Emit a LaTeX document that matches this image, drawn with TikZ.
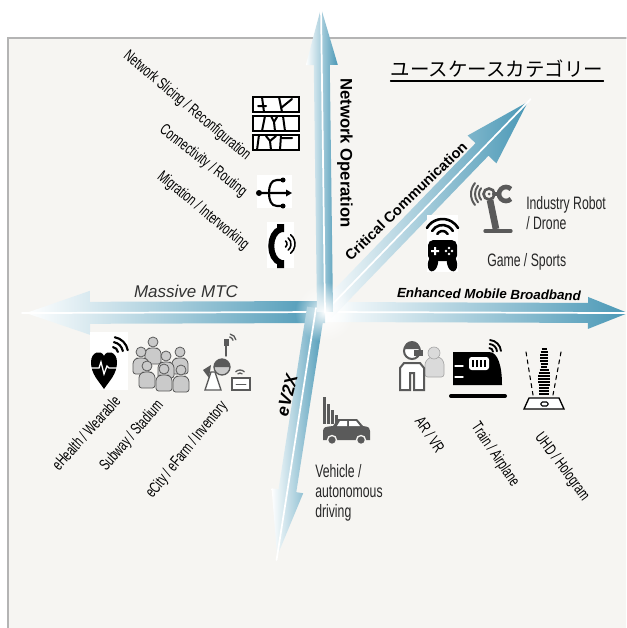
\documentclass[tikz,border=0pt]{standalone}
\usepackage{fontspec}
\setmainfont{Liberation Sans}
\newfontfamily\narrowfont[FakeStretch=0.68]{Liberation Sans}
\newfontfamily\jpfont{Noto Sans CJK JP}
\usetikzlibrary{calc,fadings}
\definecolor{panel}{HTML}{F6F5F2}
\definecolor{frame}{HTML}{B4B4B4}
\definecolor{arrowteal}{HTML}{4A98B6}
\definecolor{arrowpale}{HTML}{D3E1F6}
\definecolor{icongray}{HTML}{5A5A5A}
\definecolor{crowdgray}{HTML}{CACACA}
\tikzfading[name=hubglow, inner color=transparent!0, outer color=transparent!100]

\newcommand{\splitarrow}[6]{%
  \begin{scope}[shift={(#1)}, rotate=#2]
    \shade[left color=white, middle color=arrowpale, right color=arrowteal]
      (0,-#4) -- ({#3-#6},-#4) -- ({#3-#6},-#5) -- (#3,0) -- ({#3-#6},#5) -- ({#3-#6},#4) -- (0,#4) -- cycle;
    \draw[white, line width=1.3pt] (0,0) -- ({#3+4},0);
  \end{scope}}

\begin{document}
\begin{tikzpicture}[x=0.75pt, y=-0.75pt,
    lbl/.style={font=\narrowfont\fontsize{13.5}{15}\selectfont, text=black!85, inner sep=0pt},
    rlbl/.style={font=\narrowfont\fontsize{12}{14}\selectfont, text=black, inner sep=0pt},
    cat/.style={font=\bfseries\fontsize{12.5}{14}\selectfont, text=black, inner sep=0pt},
    line cap=round]
  \useasboundingbox (0,0) rectangle (626,628);
  \fill[white] (0,0) rectangle (626,628);
  \fill[panel] (8,38) rectangle (626,628);
  \draw[frame, line width=1pt] (8,628) -- (8,38) -- (626,38);

  \coordinate (hub) at (325,312);
  \coordinate (vxtail) at (316,308);
  \splitarrow{hub}{-0.2}{303}{10}{16}{40}
  \splitarrow{hub}{180.2}{299}{11}{22}{64}
  \splitarrow{vxtail}{-98.9}{251}{9}{16}{66}
  \splitarrow{hub}{46}{292}{9}{20}{66}
  \splitarrow{hub}{90.75}{304}{8}{16}{57}
  \fill[white, path fading=hubglow] (hub) circle (30);

  \node[font=\jpfont\fontsize{14.6}{16}\selectfont, inner sep=0pt] (title) at (497,69) {ユースケースカテゴリー};
  \draw[line width=1.2pt] ([yshift=-2pt]title.south west) -- ([yshift=-2pt]title.south east);

  \node[font=\itshape\fontsize{12.75}{14}\selectfont, text=black!80, inner sep=0pt] (mtc) at (186,291) {Massive MTC};
  \node[cat, rotate=-90] (neo) at (345,153) {Network Operation};
  \node[cat, font=\bfseries\fontsize{10.9}{12}\selectfont, rotate=44] (cric) at (406,201) {Critical Communication};
  \node[cat, font=\bfseries\itshape\fontsize{10}{12}\selectfont, rotate=-1] (embb) at (489,294) {Enhanced Mobile Broadband};
  \node[cat, font=\bfseries\itshape\fontsize{13}{14}\selectfont, rotate=76] (vx) at (287,395) {eV2X};

  \node[rlbl, rotate=-40] (slicing) at (187,106) {Network Slicing / Reconfiguration};
  \node[rlbl, rotate=-38] (routing) at (203,161) {Connectivity / Routing};
  \node[rlbl, rotate=-39.5] (migration) at (203,211) {Migration / Interworking};
  \node[rlbl, rotate=48] (health) at (86,433) {eHealth / Wearable};
  \node[rlbl, rotate=49] (subway) at (132,436) {Subway / Stadium};
  \node[rlbl, rotate=51] (ecity) at (187,450) {eCity / eFarm / Inventory};
  \node[rlbl, rotate=-56] (arvr) at (430,435) {AR / VR};
  \node[rlbl, rotate=-56] (train) at (495,455) {Train / Airplane};
  \node[rlbl, rotate=-53] (uhd) at (562,467) {UHD / Hologram};
  \node[lbl, align=left, anchor=north west] (vehicle) at (315,464) {Vehicle /\\autonomous\\driving};
  \node[lbl, align=left, anchor=west] (robot) at (526,213) {Industry Robot\\/ Drone};
  \node[lbl, anchor=west] (game) at (487,262) {Game / Sports};

  % slicing
  \fill[white] (252,96) rectangle (300,151);
  \foreach \t in {97,116,135} \draw[line width=1.2pt] (253,\t) rectangle (299,\t+15);
  \draw[line width=1.5pt] (262,97) -- (264,112) (258,106) -- (266,106) (279,97) -- (282,112) (281,108) -- (292,99)
    (265,116) -- (262,131) (274,122) -- (271,116) (274,122) -- (277,117) (274,122) -- (275,131) (283,116) -- (285,131)
    (259,135) -- (257,150) (270,141) -- (266,136) (270,141) -- (276,136) (270,141) -- (271,150) (281,135) -- (280,150) (282,138) -- (292,138);

  % routing
  \fill[white] (257,175) rectangle (292,208);
  \draw[line width=1.6pt] (259,193) -- (289,193)
    (283,180) -- (277,180) .. controls (271,180) and (269,186) .. (269,193) .. controls (269,200) and (271,206) .. (277,206) -- (283,206);
  \fill (259,193) circle (3) (283,180) circle (2.5) (283,206) circle (2.5);
  \fill (292,193) -- (286,189.5) -- (286,196.5) -- cycle;

  % phone
  \fill[white] (267,222) rectangle (294,268);
  \draw[line width=4.5pt, line cap=butt] (281,229) .. controls (268,233) and (268,259) .. (281,263);
  \fill (277,224) rectangle (284,232) (277,260) rectangle (284,268);
  \foreach \r in {4,8,12} \draw[line width=1.2pt] (283,244) ++(-50:\r) arc[start angle=-50, end angle=50, radius=\r];

  % game pad
  \fill[white] (427,215) rectangle (458,272);
  \foreach \r in {6,12,18} \draw[line width=1.9pt] (442.5,237) ++(-150:\r) arc[start angle=-150, end angle=-30, radius=\r];
  \fill[rounded corners=4pt] (428,240) rectangle (457,261);
  \fill[rotate around={-12:(433,263)}] (433,263) ellipse (5 and 8.5);
  \fill[rotate around={12:(452,263)}] (452,263) ellipse (5 and 8.5);
  \fill[white] (431,250) rectangle (439,252) (434,247) rectangle (436,255);
  \fill[white] (449,248) circle (1.4) (452,251) circle (1.4) (449,254) circle (1.4) (446,251) circle (1.4);

  % robot
  \begin{scope}[icongray]
    \foreach \r in {9,13,17} \draw[line width=1.5pt] (488,194) ++(140:\r) arc[start angle=140, end angle=220, radius=\r];
    \draw[line width=2pt] (489,194) circle (5.5);
    \fill (489,194) circle (1.5);
    \draw[line width=3.5pt, line cap=butt] (506,194) ++(45:7) arc[start angle=45, end angle=315, radius=7];
    \draw[line width=3pt] (494,194) -- (499,194);
    \draw[line width=5pt, line cap=butt] (490,200) -- (496,229);
    \draw[line width=2.5pt] (485,231) -- (511,231);
  \end{scope}

  % heart
  \fill[white] (90,332) rectangle (128,390);
  \fill (104,389) .. controls (98,380) and (91,374) .. (91,362) .. controls (91,352) and (101,349) .. (104,356)
    .. controls (107,349) and (117,352) .. (117,362) .. controls (117,374) and (110,380) .. (104,389) -- cycle;
  \draw[white, line width=1pt] (91,368) -- (99,368) -- (101,362) -- (104,374) -- (107,366) -- (109,368) -- (117,368);
  \foreach \r in {6,11,16} \draw[line width=1.6pt] (112,353) ++(-80:\r) arc[start angle=-80, end angle=-10, radius=\r];

  % crowd
  \foreach \x/\y in {153/342, 141/352, 180/352, 166/356, 147/366, 164/369, 181/370} {
    \filldraw[fill=crowdgray, draw=icongray, line width=0.6pt, rounded corners=2pt]
      (\x-8,\y+22) -- (\x-8,\y+9) -- (\x-4,\y+6) -- (\x+4,\y+6) -- (\x+8,\y+9) -- (\x+8,\y+22) -- cycle;
    \filldraw[fill=crowdgray, draw=icongray, line width=0.6pt] (\x,\y) circle (5);
  }

  % city
  \begin{scope}[icongray]
    \draw[line width=1pt] (226,356) -- (226,342);
    \fill (224,339) rectangle (229,346);
    \foreach \r in {4,7} \draw[line width=1pt] (229,341) ++(-80:\r) arc[start angle=-80, end angle=-10, radius=\r];
    \filldraw[fill=crowdgray, draw=icongray, line width=1pt] (222,367) circle (8);
    \fill (214,367) arc[start angle=180, end angle=360, radius=8] -- cycle;
    \filldraw[fill=white, draw=icongray, line width=1pt] (205,390) -- (211,372) -- (215,372) -- (221,390) -- cycle;
    \fill (203,370) -- (211,365) -- (209,378) -- cycle;
    \filldraw[fill=white, draw=icongray, line width=1.2pt] (232,378) rectangle (250,390);
    \draw (236,384) -- (246,384);
    \foreach \r in {3,6} \draw[line width=1pt] (240,376) ++(-135:\r) arc[start angle=-135, end angle=-45, radius=\r];
  \end{scope}

  % car
  \begin{scope}[icongray]
    \foreach \x/\t in {323/397, 327/404, 331/410, 335/415} \fill (\x,\t) rectangle (\x+2.5,424);
    \fill (323,440) -- (323,431) .. controls (324,427) .. (333,426) -- (338,419) -- (357,419) -- (363,426)
      .. controls (369,427) .. (370,431) -- (370,440) -- cycle;
    \fill[white] (340,421) -- (337,426) -- (347,426) -- (347,421) -- cycle;
    \fill[white] (349,421) -- (349,426) -- (360,426) -- (356,421) -- cycle;
    \filldraw[draw=panel, line width=1pt] (332,440) circle (4.5) (361,440) circle (4.5);
  \end{scope}

  % ar / vr
  \filldraw[fill=crowdgray!70, draw=gray!70, line width=0.5pt, rounded corners=2pt] (425,377) -- (425,362) -- (430,357) -- (440,357) -- (444,362) -- (444,377) -- cycle;
  \filldraw[fill=crowdgray!70, draw=gray!70, line width=0.5pt] (434,353) circle (6);
  \filldraw[fill=white, draw=icongray, line width=1.5pt] (400,390) -- (400,368) -- (404,363) -- (420,363) -- (424,368) -- (424,390) -- (414,390) -- (414,373) -- (410,373) -- (410,390) -- cycle;
  \filldraw[fill=white, draw=icongray, line width=1.5pt] (412,351) circle (8);
  \fill[icongray] (404,349) arc[start angle=180, end angle=360, radius=8] -- cycle;
  \fill[icongray] (414,350) rectangle (423,356);

  % train
  \fill (453,352) -- (489,352) .. controls (498,352) and (502,366) .. (502,385) -- (453,385) -- cycle;
  \fill[white, rounded corners=2pt] (469,357) rectangle (489,370);
  \foreach \x in {472,476,480,484} \fill (\x,360) rectangle (\x+2,367);
  \draw[white, line width=1pt] (455,366) -- (463,366) (455,377) -- (463,377);
  \draw[line width=3pt] (451,396) -- (505,396);
  \foreach \r in {4,8,12} \draw[line width=1.4pt] (489,352) ++(-85:\r) arc[start angle=-85, end angle=-5, radius=\r];

  % hologram
  \filldraw[fill=white, draw=black, line width=1pt] (524,409) -- (529,398) -- (559,398) -- (564,409) -- cycle;
  \draw[line width=0.8pt, rounded corners=1pt] (541,402) rectangle (548,406);
  \draw[dashed, line width=0.8pt] (526,352) -- (533,395) (561,352) -- (553,395);
  \foreach \y/\w in {349/2.5,352/3.5,355/4,358/4,361/4,364/3.5,367/3,370/4.5,373/5.5,376/6,379/6,382/6,385/5.5,388/5,391/5,394/5}
    \draw[line width=1.3pt, line cap=butt] (544-\w,\y) -- (544+\w,\y);
\end{tikzpicture}
\end{document}
